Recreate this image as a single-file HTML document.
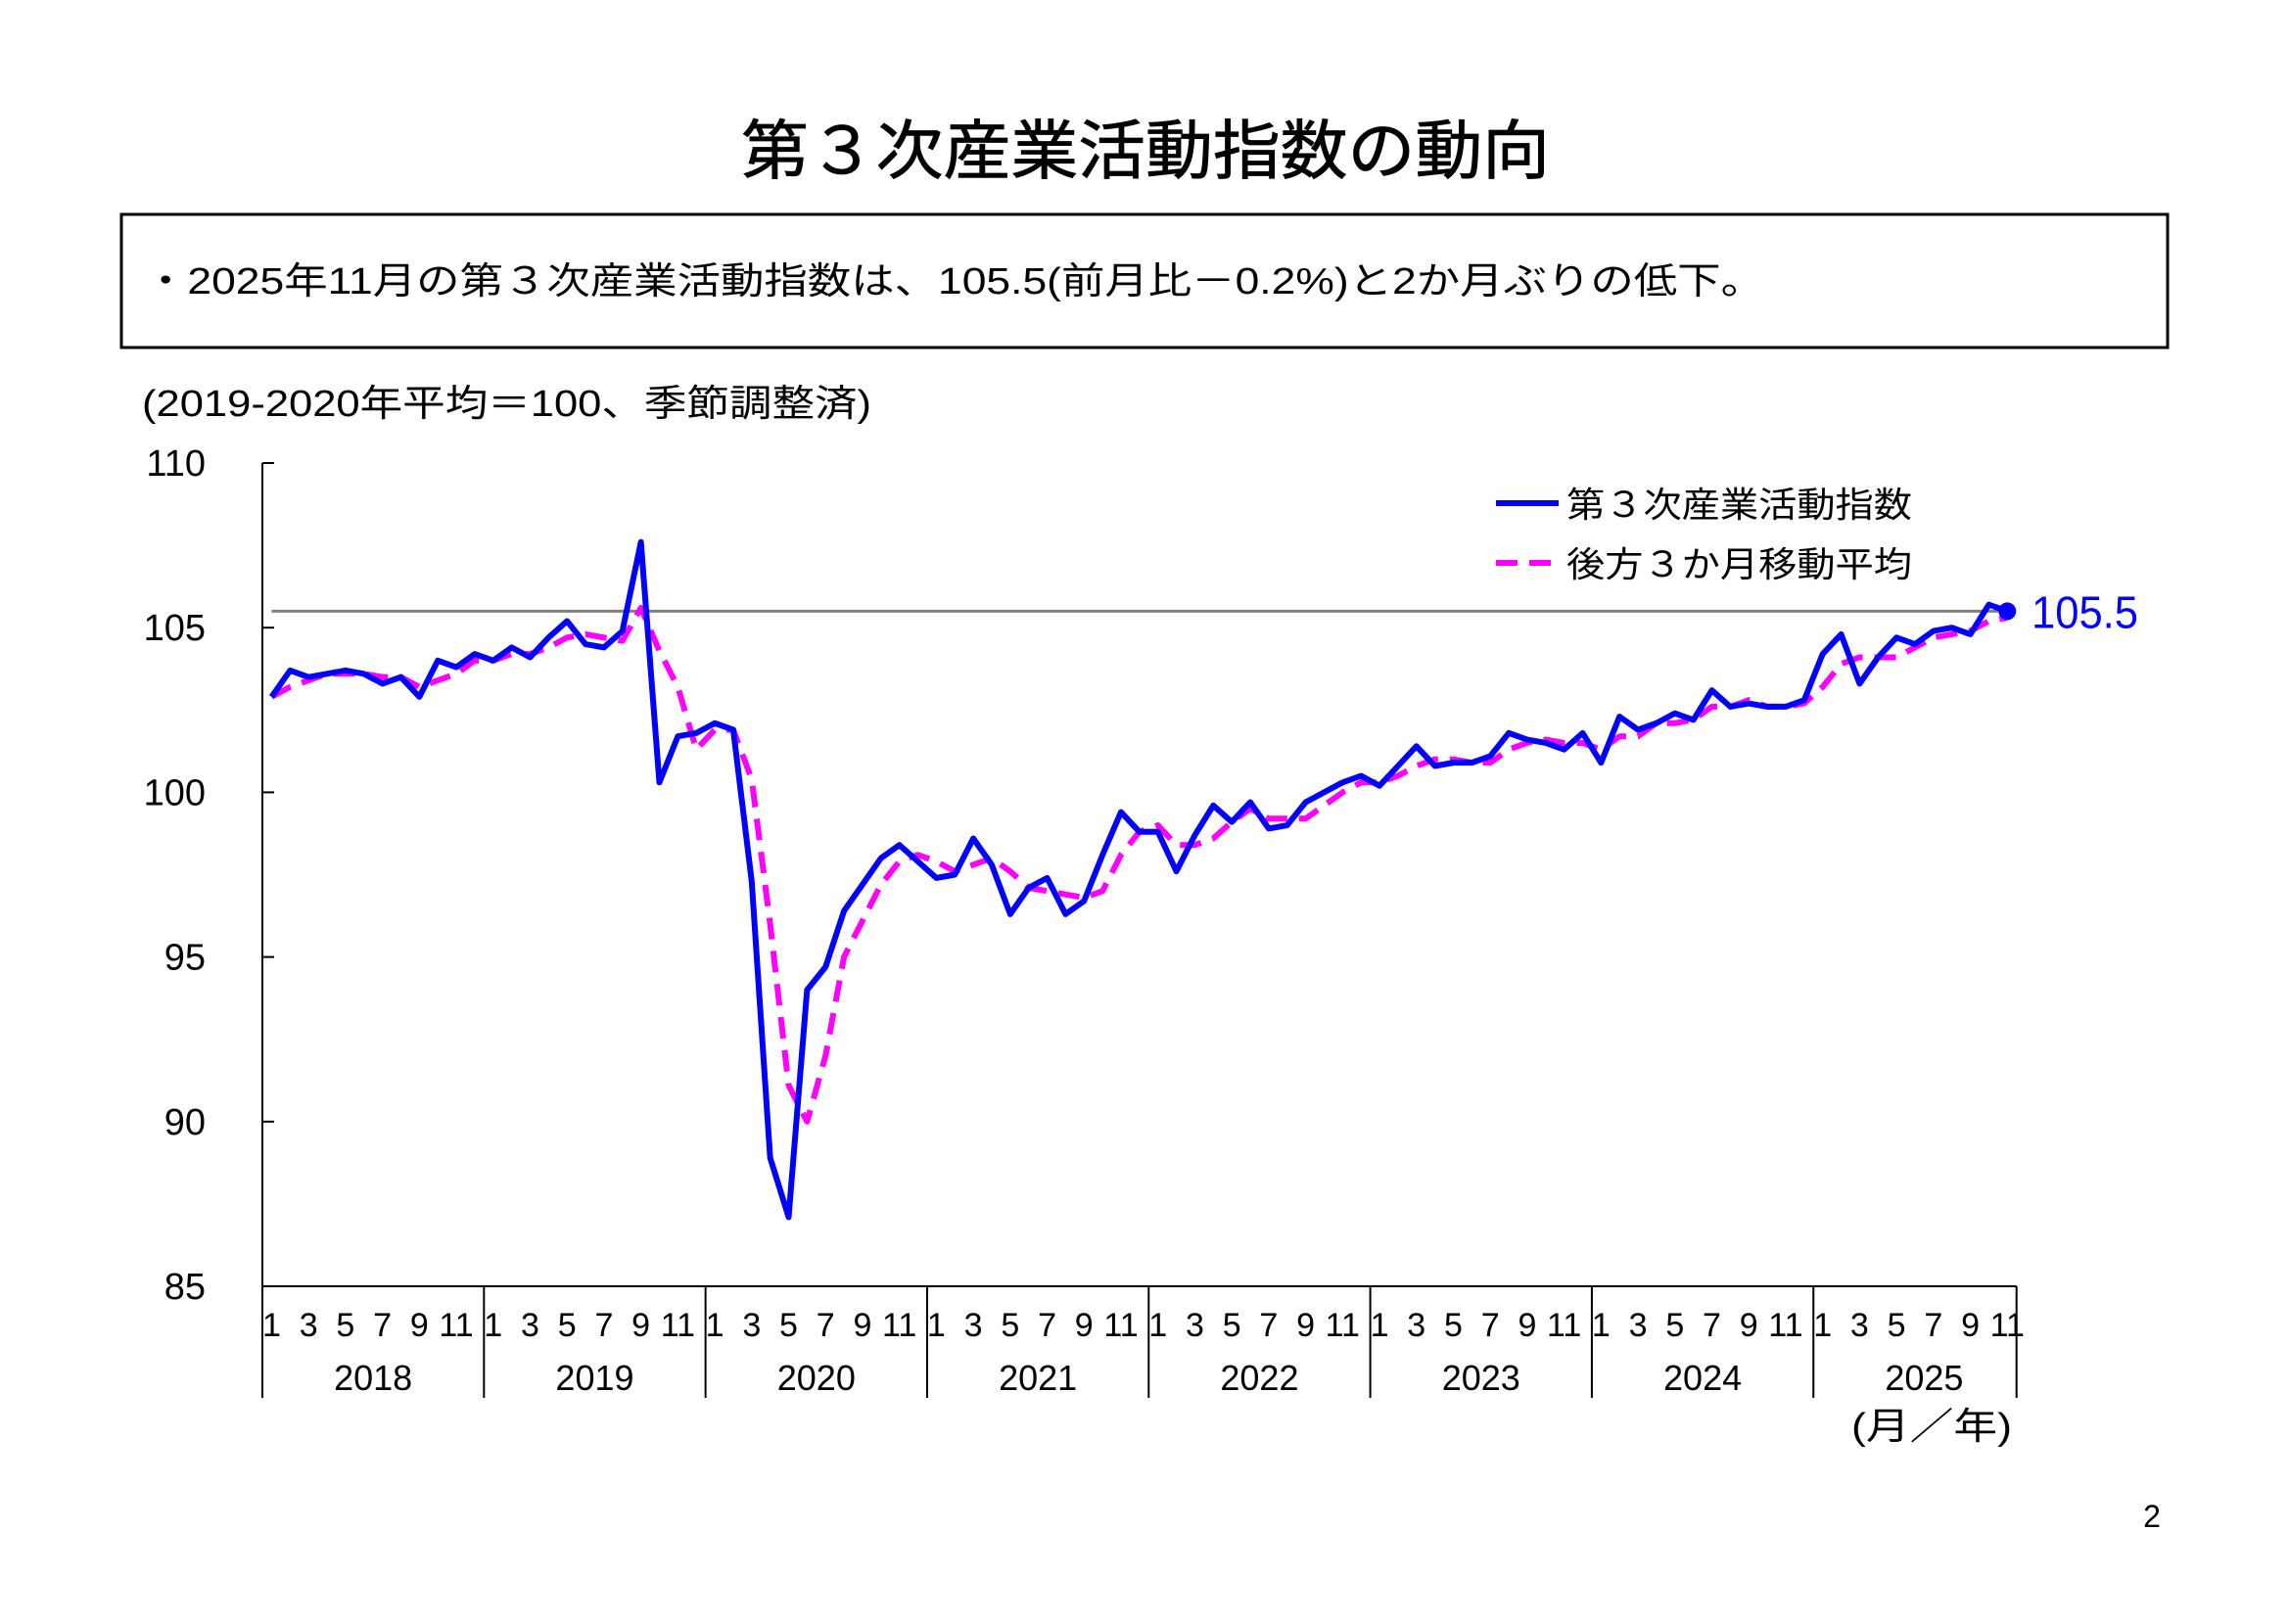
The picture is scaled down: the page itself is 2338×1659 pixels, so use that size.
<!DOCTYPE html>
<html><head><meta charset="utf-8"><style>
html,body{margin:0;padding:0;background:#fff;}
body{width:2338px;height:1654px;position:relative;overflow:hidden;font-family:"Liberation Sans","Noto Sans CJK JP",sans-serif;}
</style></head><body>
<svg id="chart" width="2338" height="1654" viewBox="0 0 2338 1654" xmlns="http://www.w3.org/2000/svg" font-family="'Liberation Sans','Noto Sans CJK JP',sans-serif">
<text x="757" y="177" font-size="66" textLength="826" lengthAdjust="spacingAndGlyphs" fill="#000" stroke="#000" stroke-width="0.8">第３次産業活動指数の動向</text>
<rect x="124" y="219" width="2090" height="136" fill="none" stroke="#000" stroke-width="3"/>
<text x="147" y="300" font-size="38" textLength="1655" lengthAdjust="spacingAndGlyphs" fill="#000">・2025年11月の第３次産業活動指数は、105.5(前月比－0.2%)と2か月ぶりの低下。</text>
<text x="145" y="425" font-size="38" textLength="745" lengthAdjust="spacingAndGlyphs" fill="#000">(2019-2020年平均＝100、季節調整済)</text>
<g id="plot"></g>
<g>
<line x1="1528" y1="514" x2="1592" y2="514" stroke="#0000ff" stroke-width="6"/>
<text x="1600" y="528" font-size="36" textLength="353" lengthAdjust="spacingAndGlyphs">第３次産業活動指数</text>
<line x1="1528" y1="575" x2="1592" y2="575" stroke="#ff00ff" stroke-width="6" stroke-dasharray="22 12"/>
<text x="1600" y="589" font-size="36" textLength="353" lengthAdjust="spacingAndGlyphs">後方３か月移動平均</text>
</g>
<text x="1891" y="1470" font-size="38" textLength="164" lengthAdjust="spacingAndGlyphs">(月／年)</text>
<text x="2198" y="1560" font-size="32" text-anchor="middle">2</text>
</svg>
<script>
const years = ['2018','2019','2020','2021','2022','2023','2024','2025'];
const yTicks = [85,90,95,100,105,110];
const monthLabels = ['1','3','5','7','9','11'];
const indexValues = [
102.9,103.7,103.5,103.6,103.7,103.6,103.3,103.5,102.9,104.0,103.8,104.2,
104.0,104.4,104.1,104.7,105.2,104.5,104.4,104.9,107.6,100.3,101.7,101.8,
102.1,101.9,97.3,88.9,87.1,94.0,94.7,96.4,97.2,98.0,98.4,97.9,
97.4,97.5,98.6,97.8,96.3,97.1,97.4,96.3,96.7,98.1,99.4,98.8,
98.8,97.6,98.7,99.6,99.1,99.7,98.9,99.0,99.7,100.0,100.3,100.5,
100.2,100.8,101.4,100.8,100.9,100.9,101.1,101.8,101.6,101.5,101.3,101.8,
100.9,102.3,101.9,102.1,102.4,102.2,103.1,102.6,102.7,102.6,102.6,102.8,
104.2,104.8,103.3,104.1,104.7,104.5,104.9,105.0,104.8,105.7,105.5];
const maValues = [
102.9,103.2,103.4,103.6,103.6,103.6,103.5,103.5,103.2,103.4,103.6,104.0,
104.0,104.2,104.2,104.4,104.7,104.8,104.7,104.6,105.6,104.3,103.2,101.3,
101.9,101.9,100.4,96.0,91.1,90.0,92.0,95.0,96.1,97.2,97.9,98.1,
97.9,97.6,97.8,98.0,97.6,97.1,97.0,96.9,96.8,97.0,98.1,98.8,
99.0,98.4,98.4,98.6,99.1,99.5,99.2,99.2,99.2,99.6,100.0,100.3,
100.3,100.5,100.8,101.0,101.0,100.9,100.9,101.3,101.5,101.6,101.5,101.5,
101.3,101.7,101.7,102.1,102.1,102.2,102.6,102.6,102.8,102.6,102.6,102.7,
103.2,103.9,104.1,104.1,104.1,104.4,104.7,104.8,104.9,105.2,105.3];
const latestLabel = ['105.5'];

const NS='http://www.w3.org/2000/svg';
const g=document.getElementById('plot');
const X0=268, MW=18.86, YT=473, YB=1314, YMIN=85, YMAX=110;
const xs=i=>X0+(i+0.5)*MW;
const ys=v=>YB-(v-YMIN)/(YMAX-YMIN)*(YB-YT);
function mk(t,a){const e=document.createElementNS(NS,t);for(const k in a)e.setAttribute(k,a[k]);g.appendChild(e);return e;}
const xEnd=X0+indexValues.length*MW;
const NF="'Liberation Sans Narrow','Liberation Sans',sans-serif";
let ax=mk('line',{x1:X0,y1:YT,x2:X0,y2:YB,stroke:'#000','stroke-width':2});


let bx=mk('line',{x1:X0,y1:YB,x2:xEnd,y2:YB,stroke:'#000','stroke-width':2});


yTicks.forEach(v=>{
  const tk=mk('line',{x1:X0,y1:ys(v),x2:X0+12,y2:ys(v),stroke:'#000','stroke-width':2});
  
  
  const t=mk('text',{x:210,y:ys(v)+13,'font-size':38,'text-anchor':'end',fill:'#000','font-family':NF});
  t.textContent=v;
  
  
});
years.forEach((yr,k)=>{
  const xl=X0+k*12*MW;
  const sep=mk('line',{x1:xl,y1:YB,x2:xl,y2:1428,stroke:'#000','stroke-width':2});
  
  
  monthLabels.forEach((m,j)=>{
    const i=k*12+j*2; if(i>=indexValues.length+1) return;
    const t=mk('text',{x:xs(i),y:1365,'font-size':34,'text-anchor':'middle','font-family':NF});
    t.textContent=m;
    
    
  });
  const yt=mk('text',{x:xl+6*MW,y:1420,'font-size':36,'text-anchor':'middle','font-family':NF});
  yt.textContent=yr;
  
  
});
const endSep=mk('line',{x1:xEnd,y1:YB,x2:xEnd,y2:1428,stroke:'#000','stroke-width':2});


const last=indexValues.length-1;
const ref=mk('line',{x1:xs(0),y1:ys(indexValues[last]),x2:xs(last),y2:ys(indexValues[last]),stroke:'#808080','stroke-width':3});


const ma=mk('polyline',{points:maValues.map((v,i)=>xs(i)+','+ys(v)).join(' '),fill:'none',stroke:'#ff00ff','stroke-width':6,'stroke-dasharray':'22 12','stroke-linejoin':'round'});


const idx=mk('polyline',{points:indexValues.map((v,i)=>xs(i)+','+ys(v)).join(' '),fill:'none',stroke:'#0000ff','stroke-width':6,'stroke-linejoin':'round'});


const dot=mk('circle',{cx:xs(last),cy:ys(indexValues[last]),r:9,fill:'#0000ff'});


const lbl=mk('text',{x:2075,y:ys(indexValues[last])+17,'font-size':46,fill:'#0000ff','font-family':NF,textLength:109,lengthAdjust:'spacingAndGlyphs'});
lbl.textContent=latestLabel[0];


</script>
</body></html>
